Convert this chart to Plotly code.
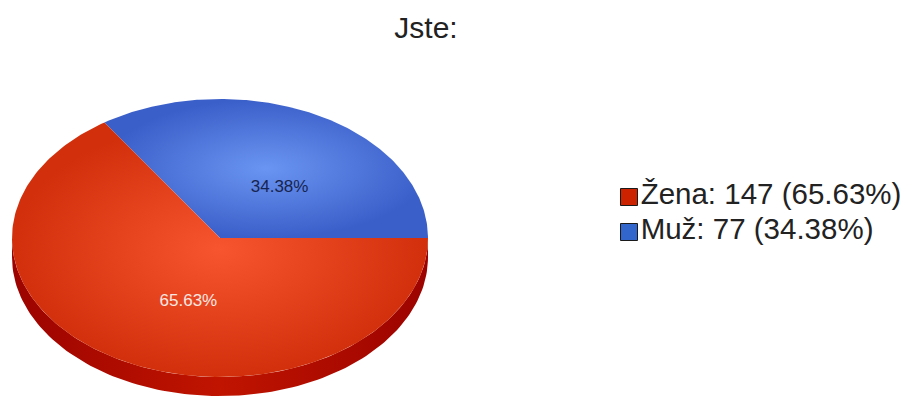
import numpy as np
import plotly.graph_objects as go
from decimal import Decimal, ROUND_HALF_UP

# ---- data ----
title_text = "Jste:"
categories = ["Muž", "Žena"]
counts = [77, 147]
legend_order = ["Žena", "Muž"]

# ---- styles ----
top_light = {"Muž": "#6a95f2", "Žena": "#f7552f"}
top_dark = {"Muž": "#3b5fc9", "Žena": "#d2300c"}
side_dark = {"Muž": "#1f3a8a", "Žena": "#9c0300"}
side_mid = {"Muž": "#2c4fb0", "Žena": "#c01400"}
label_color = {"Muž": "#17244f", "Žena": "#f8e8e2"}
legend_color = {"Muž": "#3366cc", "Žena": "#cc2200"}

W, H = 909, 399
OFF = 8  # page body margin
cx, cy, rx, ry, depth = 220, 238, 208, 139, 19

total = sum(counts)
pcts = [Decimal(c) * 100 / Decimal(total) for c in counts]
pct_txt = [str(p.quantize(Decimal("0.01"), rounding=ROUND_HALF_UP)) + "%" for p in pcts]

fig = go.Figure()

def ell(angles, dy=0.0):
    a = np.radians(angles)
    return cx + rx * np.cos(a), cy - ry * np.sin(a) + dy

# slices: start at 0deg (east), counterclockwise
starts, ends = [], []
acc = 0.0
for c in counts:
    starts.append(acc)
    acc += 360.0 * c / total
    ends.append(acc)

# side walls (visible front half: 180..360)
for name, s, e in zip(categories, starts, ends):
    lo, hi = max(s, 180.0), min(e, 360.0)
    if hi <= lo:
        continue
    ang = np.linspace(lo, hi, 120)
    xb, yb = ell(ang, depth)
    xt, yt = ell(ang[::-1], 0)
    fig.add_trace(go.Scatter(
        x=np.concatenate([xb, xt, xb[:1]]), y=np.concatenate([yb, yt, yb[:1]]),
        mode="lines", fill="toself", line=dict(width=0),
        fillgradient=dict(type="horizontal",
                          colorscale=[[0, side_dark[name]], [0.5, side_mid[name]], [1, side_dark[name]]]),
        hoverinfo="skip", showlegend=False))

# top faces
for name, s, e in zip(categories, starts, ends):
    ang = np.linspace(s, e, 200)
    xs, ys = ell(ang)
    fig.add_trace(go.Scatter(
        x=np.concatenate([[cx], xs, [cx]]), y=np.concatenate([[cy], ys, [cy]]),
        mode="lines", fill="toself", line=dict(width=0),
        fillgradient=dict(type="radial",
                          colorscale=[[0, top_light[name]], [1, top_dark[name]]]),
        hoverinfo="skip", showlegend=False))

# percentage labels
lab_cx, lab_cy, k = cx + 14, cy + 7, 0.465
for name, s, e, t in zip(categories, starts, ends, pct_txt):
    m = np.radians((s + e) / 2)
    fig.add_trace(go.Scatter(
        x=[lab_cx + k * rx * np.cos(m)], y=[lab_cy - k * ry * np.sin(m)],
        mode="text", text=[t], textposition="middle center",
        textfont=dict(family="Liberation Sans", size=17, color=label_color[name]),
        hoverinfo="skip", showlegend=False))

# legend
lx, ly0, lstep = 629, 197, 35
for i, name in enumerate(legend_order):
    j = categories.index(name)
    fig.add_trace(go.Scatter(
        x=[lx], y=[ly0 + i * lstep], mode="markers+text",
        marker=dict(symbol="square", size=17, color=legend_color[name],
                    line=dict(color="#1a1a1a", width=1)),
        text=[f"{name}: {counts[j]} ({pct_txt[j]})"], textposition="middle right",
        textfont=dict(family="Liberation Sans", size=29.5, color="#222222"),
        hoverinfo="skip", showlegend=False))

fig.update_layout(
    width=W, height=H, margin=dict(l=0, r=0, t=0, b=0),
    paper_bgcolor="white", plot_bgcolor="white",
    title=dict(text=title_text, x=(426 - OFF) / W, xanchor="center",
               y=1 - (27 - OFF) / H, yanchor="middle",
               font=dict(family="Liberation Sans", size=30, color="#222222")),
    xaxis=dict(range=[OFF, W + OFF], visible=False, fixedrange=True),
    yaxis=dict(range=[H + OFF, OFF], visible=False, fixedrange=True),
)

fig.write_html("out.html")
